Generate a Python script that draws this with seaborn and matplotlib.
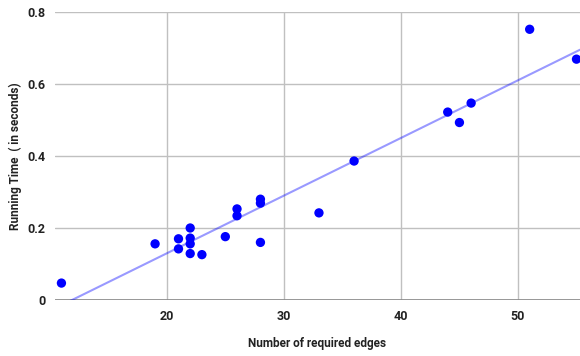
import matplotlib
matplotlib.use("Agg")
import matplotlib.pyplot as plt
import seaborn as sns
import pandas as pd

edges = [11, 19, 21, 21, 22, 22, 22, 22, 23, 25, 26, 26, 28, 28, 28,
         33, 36, 44, 45, 46, 51, 55]
running_time = [0.047, 0.156, 0.170, 0.142, 0.200, 0.172, 0.156, 0.129, 0.126,
                0.176, 0.253, 0.234, 0.280, 0.269, 0.160,
                0.242, 0.386, 0.522, 0.493, 0.547, 0.752, 0.669]
x_ticks = [20, 30, 40, 50]
y_ticks = [0, 0.2, 0.4, 0.6, 0.8]
y_tick_labels = ["0", "0.2", "0.4", "0.6", "0.8"]

df = pd.DataFrame({"edges": edges, "time": running_time})

sns.set_style("white")
plt.rcParams['font.family'] = ['Roboto', 'DejaVu Sans']

fig = plt.figure(figsize=(5.8, 3.56), dpi=100)
ax = fig.add_axes([55/580, 1 - 300/356, 1 - 55/580, (300 - 12)/356])
ax.set_xlim(10.45, 55.3)
ax.set_ylim(0, 0.8)

sns.regplot(data=df, x="edges", y="time", ax=ax, ci=None, truncate=False,
            scatter=False, line_kws=dict(color="#0000ff", alpha=0.4, lw=1.5, zorder=2))
sns.scatterplot(data=df, x="edges", y="time", ax=ax, color="#0000ff", s=45,
                edgecolor="none", zorder=3, clip_on=False)

ax.set_xlim(10.45, 55.3)
ax.set_ylim(0, 0.8)
ax.set_xticks(x_ticks)
ax.set_yticks(y_ticks)
ax.set_yticklabels(y_tick_labels)
ax.grid(True, color="#c0c0c0", lw=1)
ax.axhline(0, color="#888888", lw=1.2, zorder=1)
for s in ax.spines.values():
    s.set_visible(False)
ax.tick_params(axis="both", length=0, labelsize=9, labelcolor="#222222")
for lab in ax.get_xticklabels() + ax.get_yticklabels():
    lab.set_fontweight("bold")
ax.tick_params(axis="x", pad=7)
ax.tick_params(axis="y", pad=7)
ax.set_xlabel("Number of required edges", fontsize=8.5, fontweight="bold", color="#222222", labelpad=10)
ax.set_ylabel("Running Time  ( in seconds)", fontsize=8.5, fontweight="bold", color="#222222", labelpad=4)

fig.savefig("out.png", dpi=100)
